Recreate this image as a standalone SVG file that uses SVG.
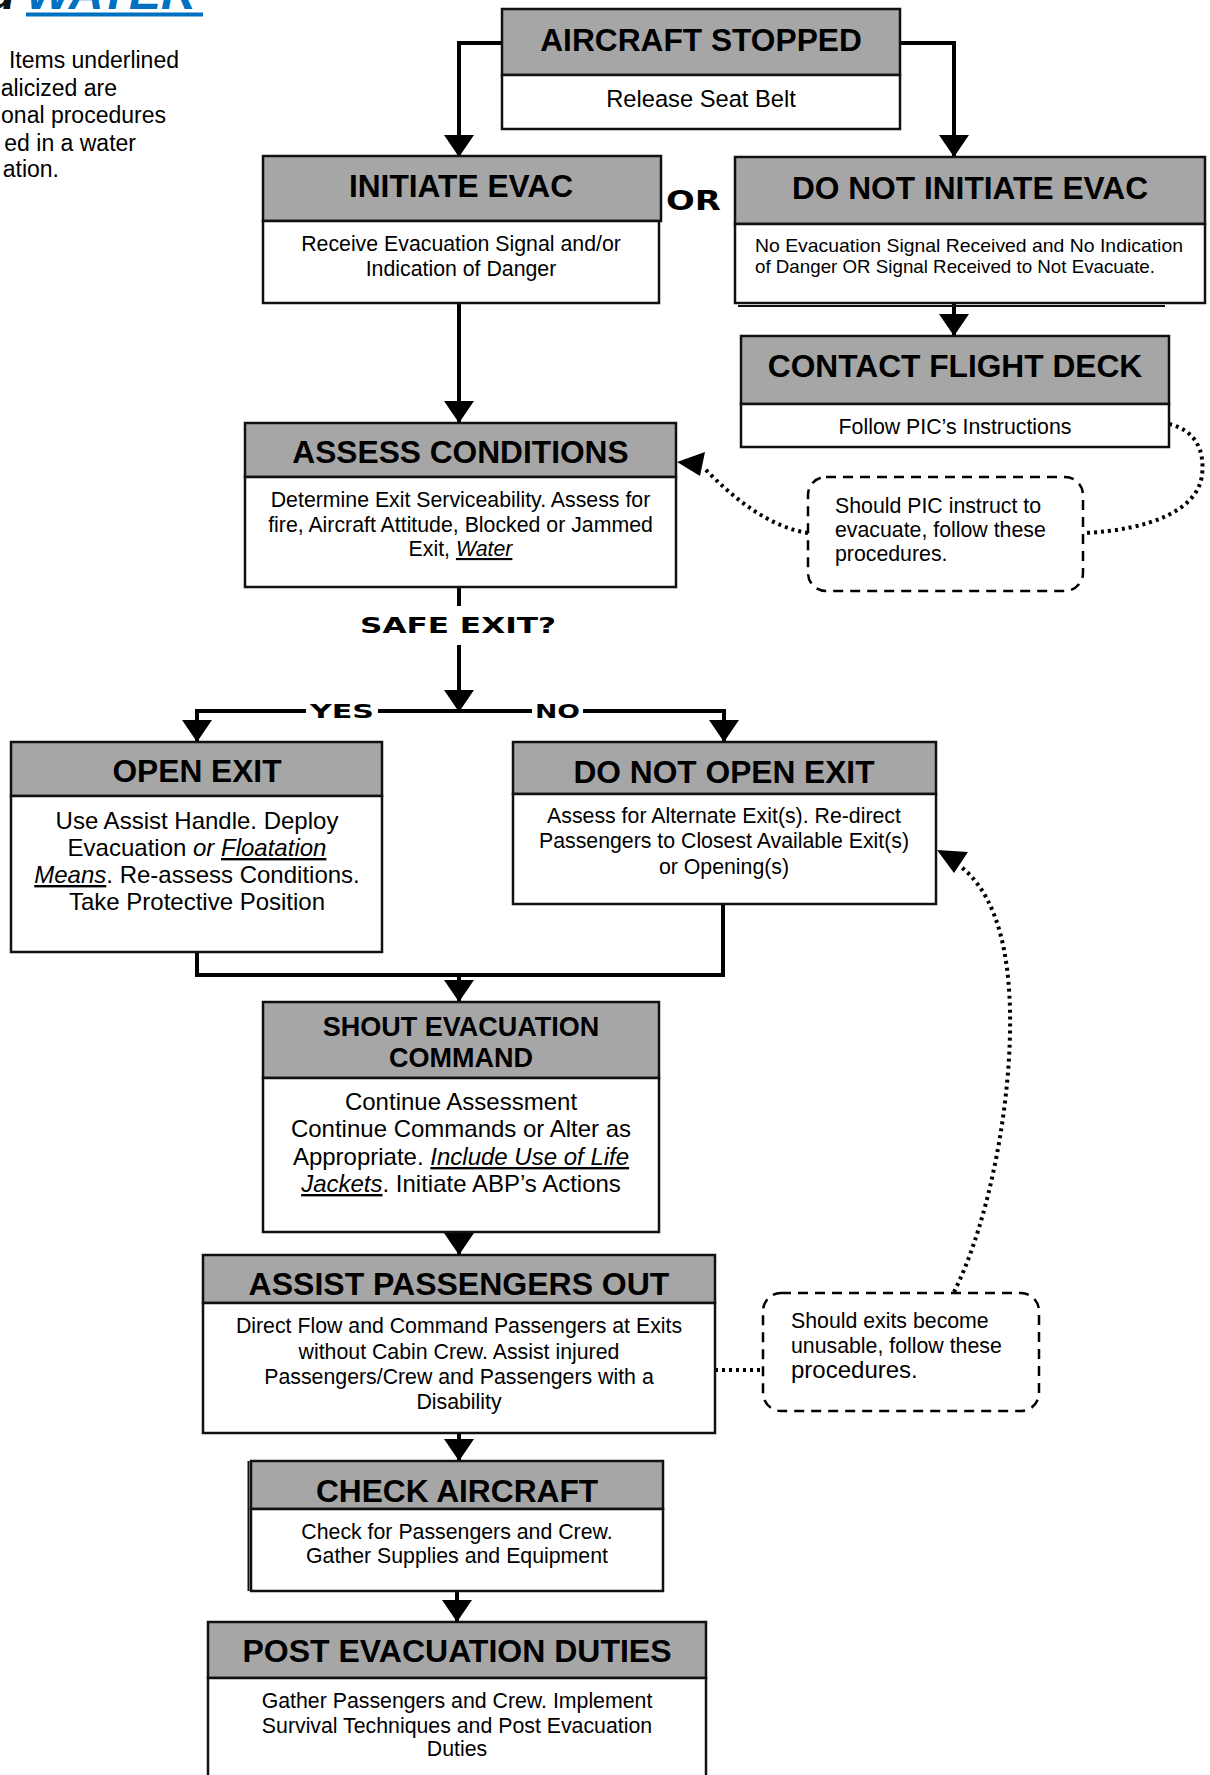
<svg xmlns="http://www.w3.org/2000/svg" width="1210" height="1775" viewBox="0 0 1210 1775">
<defs>
<style>
.hdr{fill:#a6a6a6;stroke:#111;stroke-width:2.5}
.bdy{fill:#fff;stroke:#111;stroke-width:2.5}
.ttl{font-family:"Liberation Sans",Arial,sans-serif;font-weight:bold;font-size:31.7px;text-anchor:middle;fill:#000}
.txt{font-family:"Liberation Sans",Arial,sans-serif;font-size:21.3px;text-anchor:middle;fill:#000}
.note{font-family:"Liberation Sans",Arial,sans-serif;font-size:23px;text-anchor:end;fill:#000}
.big{font-size:24px}
.iu{font-style:italic;text-decoration:underline}
.it{font-style:italic}
.conn{fill:none;stroke:#000;stroke-width:4}
.dot{fill:none;stroke:#000;stroke-width:4;stroke-dasharray:3 4}
.call{fill:#fff;stroke:#000;stroke-width:2.5;stroke-dasharray:10 7}
.lbl{font-family:"DejaVu Sans",sans-serif;font-weight:bold;fill:#000}
.ctx{font-family:"Liberation Sans",Arial,sans-serif;font-size:21.3px;fill:#000}
</style>
<marker id="ah" markerUnits="userSpaceOnUse" markerWidth="22" markerHeight="30" viewBox="0 -15 22 30" refX="22" refY="0" orient="auto">
<path d="M0,-15 L22,0 L0,15 Z" fill="#000"/>
</marker>
</defs>
<rect width="1210" height="1775" fill="#fff"/>

<g id="heading">
<text x="-14" y="9" style="font-family:'Liberation Sans',Arial,sans-serif;font-size:48px;font-weight:bold;font-style:italic" fill="#111">d</text>
<text x="26" y="9" style="font-family:'Liberation Sans',Arial,sans-serif;font-size:48px;font-weight:bold;font-style:italic" fill="#0070c0">WATER</text>
<rect x="26" y="12.5" width="177" height="4" fill="#0070c0"/>
</g>

<g id="note">
<text class="note" x="179" y="68">Items underlined</text>
<text class="note" x="117" y="96">alicized are</text>
<text class="note" x="166" y="123">onal procedures</text>
<text class="note" x="136" y="151">ed in a water</text>
<text class="note" x="59" y="177">ation.</text>
</g>

<g id="connectors">
<path class="conn" d="M502,43 H459 V157" marker-end="url(#ah)"/>
<path class="conn" d="M900,43 H954 V157" marker-end="url(#ah)"/>
<path class="conn" d="M459,303 V423" marker-end="url(#ah)"/>
<path class="conn" d="M954,303 V336" marker-end="url(#ah)"/>
<path class="conn" d="M459,587 V606"/>
<path class="conn" d="M459,645 V712" marker-end="url(#ah)"/>
<path class="conn" d="M306,711 H197 V742" marker-end="url(#ah)"/>
<path class="conn" d="M378,711 H532"/>
<path class="conn" d="M583,711 H724 V742" marker-end="url(#ah)"/>
<path class="conn" d="M197,952 V975 H723 V904"/>
<path class="conn" d="M459,975 V1002" marker-end="url(#ah)"/>
<path class="conn" d="M459,1232 V1255" marker-end="url(#ah)"/>
<path class="conn" d="M459,1433 V1461" marker-end="url(#ah)"/>
<path class="conn" d="M457,1591 V1622" marker-end="url(#ah)"/>
<path class="dot" d="M1169,424 C1195,430 1205,450 1202,475 C1198,510 1150,530 1084,533"/>
<path class="dot" d="M808,533 C770,527 735,500 704,468"/>
<polygon points="677,462 705,452 700,476" fill="#000"/>
<path class="dot" d="M715,1370 H763"/>
<path class="dot" d="M954,1292 C990,1220 1012,1100 1010,1010 C1008,930 988,888 960,866"/>
<polygon points="937,850 968,852 954,873" fill="#000"/>
<text class="lbl" x="666" y="210" style="font-size:27px" textLength="55" lengthAdjust="spacingAndGlyphs">OR</text>
<text class="lbl" x="360" y="633" style="font-size:22px" textLength="196" lengthAdjust="spacingAndGlyphs">SAFE EXIT?</text>
<text class="lbl" x="310" y="718" style="font-size:20px" textLength="64" lengthAdjust="spacingAndGlyphs">YES</text>
<text class="lbl" x="535" y="718" style="font-size:20px" textLength="45" lengthAdjust="spacingAndGlyphs">NO</text>
</g>

<g id="aircraft-stopped">
<rect class="hdr" x="502" y="9" width="398" height="66"/>
<rect class="bdy" x="502" y="75" width="398" height="54"/>
<text class="ttl" x="701" y="51">AIRCRAFT STOPPED</text>
<text class="txt" x="701" y="107" style="font-size:23.7px">Release Seat Belt</text>
</g>

<g id="initiate-evac">
<rect class="hdr" x="263" y="156" width="398" height="65"/>
<rect class="bdy" x="263" y="221" width="396" height="82"/>
<text class="ttl" x="461" y="197">INITIATE EVAC</text>
<text class="txt" x="461" y="251">Receive Evacuation Signal and/or</text>
<text class="txt" x="461" y="276">Indication of Danger</text>
</g>

<g id="do-not-initiate-evac">
<line x1="738" y1="306" x2="1165" y2="306" stroke="#111" stroke-width="2"/>
<rect class="hdr" x="735" y="157" width="470" height="67"/>
<rect class="bdy" x="735" y="224" width="470" height="79"/>
<text class="ttl" x="970" y="199">DO NOT INITIATE EVAC</text>
<text class="ctx" x="755" y="252" style="font-size:18.5px" textLength="428" lengthAdjust="spacingAndGlyphs">No Evacuation Signal Received and No Indication</text>
<text class="ctx" x="755" y="273" style="font-size:18.5px" textLength="400" lengthAdjust="spacingAndGlyphs">of Danger OR Signal Received to Not Evacuate.</text>
</g>

<g id="contact-flight-deck">
<rect class="hdr" x="741" y="336" width="428" height="68"/>
<rect class="bdy" x="741" y="404" width="428" height="43"/>
<text class="ttl" x="955" y="377">CONTACT FLIGHT DECK</text>
<text class="txt" x="955" y="434">Follow PIC’s Instructions</text>
</g>

<g id="callout-pic">
<rect class="call" x="808" y="477" width="275" height="114" rx="18"/>
<text class="ctx" x="835" y="513">Should PIC instruct to</text>
<text class="ctx" x="835" y="537">evacuate, follow these</text>
<text class="ctx" x="835" y="561">procedures.</text>
</g>

<g id="assess-conditions">
<rect class="hdr" x="245" y="423" width="431" height="54"/>
<rect class="bdy" x="245" y="477" width="431" height="110"/>
<text class="ttl" x="460.5" y="463">ASSESS CONDITIONS</text>
<text class="txt" x="460.5" y="507">Determine Exit Serviceability. Assess for</text>
<text class="txt" x="460.5" y="532">fire, Aircraft Attitude, Blocked or Jammed</text>
<text class="txt" x="460.5" y="556">Exit, <tspan class="iu">Water</tspan></text>
</g>

<g id="open-exit">
<rect class="hdr" x="11" y="742" width="371" height="54"/>
<rect class="bdy" x="11" y="796" width="371" height="156"/>
<text class="ttl" x="197" y="782">OPEN EXIT</text>
<text class="txt big" x="197" y="829">Use Assist Handle. Deploy</text>
<text class="txt big" x="197" y="856">Evacuation <tspan class="it">or</tspan> <tspan class="iu">Floatation</tspan></text>
<text class="txt big" x="197" y="883"><tspan class="iu">Means</tspan>. Re-assess Conditions.</text>
<text class="txt big" x="197" y="910">Take Protective Position</text>
</g>

<g id="do-not-open-exit">
<rect class="hdr" x="513" y="742" width="423" height="52"/>
<rect class="bdy" x="513" y="794" width="423" height="110"/>
<text class="ttl" x="724" y="783">DO NOT OPEN EXIT</text>
<text class="txt" x="724" y="823">Assess for Alternate Exit(s). Re-direct</text>
<text class="txt" x="724" y="848">Passengers to Closest Available Exit(s)</text>
<text class="txt" x="724" y="874">or Opening(s)</text>
</g>

<g id="shout-evacuation-command">
<rect class="hdr" x="263" y="1002" width="396" height="76"/>
<rect class="bdy" x="263" y="1078" width="396" height="154"/>
<text class="ttl" x="461" y="1036" style="font-size:27px">SHOUT EVACUATION</text>
<text class="ttl" x="461" y="1067" style="font-size:27px">COMMAND</text>
<text class="txt big" x="461" y="1110">Continue Assessment</text>
<text class="txt big" x="461" y="1137">Continue Commands or Alter as</text>
<text class="txt big" x="461" y="1165">Appropriate. <tspan class="iu">Include Use of Life</tspan></text>
<text class="txt big" x="461" y="1192"><tspan class="iu">Jackets</tspan>. Initiate ABP’s Actions</text>
</g>

<g id="assist-passengers-out">
<rect class="hdr" x="203" y="1255" width="512" height="48"/>
<rect class="bdy" x="203" y="1303" width="512" height="130"/>
<text class="ttl" x="459" y="1295" style="font-size:32px">ASSIST PASSENGERS OUT</text>
<text class="txt" x="459" y="1333">Direct Flow and Command Passengers at Exits</text>
<text class="txt" x="459" y="1359">without Cabin Crew. Assist injured</text>
<text class="txt" x="459" y="1384">Passengers/Crew and Passengers with a</text>
<text class="txt" x="459" y="1409">Disability</text>
</g>

<g id="callout-exits">
<rect class="call" x="763" y="1293" width="276" height="118" rx="18"/>
<text class="ctx" x="791" y="1328">Should exits become</text>
<text class="ctx" x="791" y="1353">unusable, follow these</text>
<text class="ctx" x="791" y="1378" style="font-size:24px">procedures.</text>
</g>

<g id="check-aircraft">
<line x1="248.5" y1="1461" x2="248.5" y2="1591" stroke="#111" stroke-width="2"/>
<rect class="hdr" x="251" y="1461" width="412" height="48"/>
<rect class="bdy" x="251" y="1509" width="412" height="82"/>
<text class="ttl" x="457" y="1502">CHECK AIRCRAFT</text>
<text class="txt" x="457" y="1539">Check for Passengers and Crew.</text>
<text class="txt" x="457" y="1563">Gather Supplies and Equipment</text>
</g>

<g id="post-evacuation-duties">
<rect class="hdr" x="208" y="1622" width="498" height="56"/>
<rect class="bdy" x="208" y="1678" width="498" height="130"/>
<text class="ttl" x="457" y="1662" style="font-size:32px">POST EVACUATION DUTIES</text>
<text class="txt" x="457" y="1708">Gather Passengers and Crew. Implement</text>
<text class="txt" x="457" y="1733">Survival Techniques and Post Evacuation</text>
<text class="txt" x="457" y="1756">Duties</text>
</g>
</svg>
